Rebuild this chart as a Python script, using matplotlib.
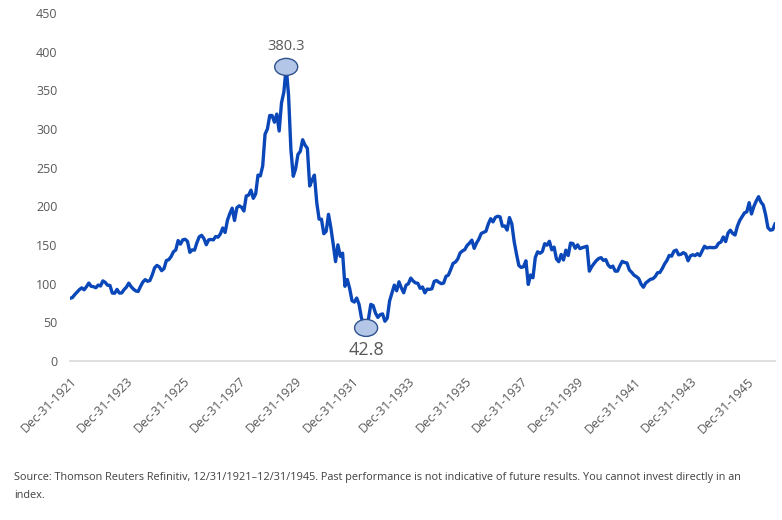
import numpy as np
import matplotlib.pyplot as plt
from matplotlib.patches import Ellipse

# month-end index levels, Dec 1921 .. Dec 1946
y1921 = [81.1]
y1922 = [82.0, 85.8, 89.1, 92.3, 94.6, 92.1, 96.0, 100.8, 96.6, 96.1, 94.7, 98.2]
y1923 = [97.0, 103.6, 101.6, 98.0, 97.7, 87.9, 87.6, 92.6, 87.9, 88.0, 92.3, 95.5]
y1924 = [100.7, 96.2, 92.9, 90.6, 89.9, 96.4, 102.1, 105.2, 103.1, 104.1, 111.4, 120.5]
y1925 = [123.6, 121.7, 116.8, 119.5, 129.9, 131.0, 134.9, 141.2, 143.5, 155.7, 151.1, 156.7]
y1926 = [157.4, 154.7, 140.5, 143.7, 143.4, 153.0, 160.6, 162.5, 158.2, 150.4, 156.6, 157.2]
y1927 = [156.6, 161.0, 160.1, 164.3, 172.0, 166.2, 182.0, 190.6, 197.6, 181.7, 198.2, 200.7]
y1928 = [198.9, 194.0, 213.4, 214.5, 220.9, 210.4, 216.0, 240.4, 239.4, 252.2, 293.4, 300.0]
y1929 = [317.5, 317.4, 308.8, 319.3, 297.4, 333.8, 347.7, 380.3, 343.5, 273.5, 238.9, 248.5]
y1930 = [267.1, 271.1, 286.1, 279.2, 275.1, 226.3, 233.9, 240.4, 204.9, 183.4, 183.4, 164.6]
y1931 = [167.6, 189.7, 172.4, 151.2, 128.5, 150.2, 135.4, 139.4, 96.6, 105.4, 93.9, 78.0]
y1932 = [76.2, 81.4, 73.3, 56.1, 44.7, 42.8, 54.3, 73.2, 71.6, 61.9, 56.4, 59.9]
y1933 = [60.9, 51.4, 55.4, 77.7, 88.1, 98.1, 90.8, 102.4, 94.5, 88.2, 98.1, 99.9]
y1934 = [107.2, 103.5, 101.0, 100.5, 94.0, 95.7, 88.1, 93.0, 92.6, 93.4, 103.0, 104.0]
y1935 = [101.7, 100.0, 100.8, 109.5, 111.0, 118.2, 126.2, 127.9, 131.9, 139.7, 142.3, 144.1]
y1936 = [149.5, 152.5, 156.3, 145.7, 152.6, 157.7, 164.9, 166.3, 167.8, 177.2, 184.0, 179.9]
y1937 = [185.7, 187.2, 186.4, 174.3, 174.7, 169.3, 185.5, 177.4, 154.6, 138.2, 123.5, 121.0]
y1938 = [121.9, 129.6, 99.0, 111.2, 107.7, 133.9, 141.2, 139.3, 141.5, 151.7, 149.8, 154.8]
y1939 = [143.8, 147.3, 131.8, 128.4, 137.7, 130.6, 143.3, 136.4, 152.5, 151.9, 145.7, 150.2]
y1940 = [145.3, 146.5, 147.5, 148.4, 116.2, 121.9, 126.1, 129.9, 132.6, 133.6, 130.0, 131.1]
y1941 = [124.1, 121.0, 122.7, 116.2, 116.2, 123.1, 128.8, 127.4, 126.8, 117.8, 114.7, 111.0]
y1942 = [109.1, 106.6, 99.5, 95.4, 100.9, 103.3, 105.7, 106.3, 109.1, 114.1, 114.5, 119.4]
y1943 = [125.4, 130.0, 136.6, 135.5, 142.1, 143.4, 137.3, 138.0, 140.1, 138.3, 129.6, 135.9]
y1944 = [137.4, 136.3, 138.8, 136.2, 142.2, 148.4, 146.1, 146.9, 146.7, 146.5, 147.3, 152.3]
y1945 = [153.8, 160.4, 154.4, 165.4, 169.1, 164.9, 162.9, 174.3, 181.7, 186.6, 191.5, 192.9]
y1946 = [204.7, 190.1, 199.8, 206.8, 212.5, 205.6, 201.6, 189.2, 172.4, 169.2, 169.8, 177.2]

values = np.array(y1921 + y1922 + y1923 + y1924 + y1925 + y1926 + y1927 + y1928
                  + y1929 + y1930 + y1931 + y1932 + y1933 + y1934 + y1935 + y1936
                  + y1937 + y1938 + y1939 + y1940 + y1941 + y1942 + y1943 + y1944
                  + y1945 + y1946)

tick_years = list(range(1921, 1946, 2))
tick_labels = [f'Dec-31-{yr}' for yr in tick_years]
y_ticks = list(range(0, 451, 50))

source = ('Source: Thomson Reuters Refinitiv, 12/31/1921\u201312/31/1945. Past performance '
          'is not indicative of future results. You cannot invest directly in an\nindex.')

plt.rcParams['font.family'] = ['Open Sans', 'DejaVu Sans']
grey = '#595959'
blue = '#0a47b8'

W, H = 782, 520
fig = plt.figure(figsize=(W / 100, H / 100), dpi=100)
ax = fig.add_axes([70 / W, 1 - 361 / H, 705 / W, 348 / H])

x = np.arange(len(values))
ax.plot(x, values, color=blue, linewidth=2.4, solid_joinstyle='round', zorder=3)

ax.set_xlim(0, len(values) - 1)
ax.set_ylim(0, 450)
ax.set_yticks(y_ticks)
ax.set_xticks([(yr - 1921) * 12 for yr in tick_years])
ax.set_xticklabels(tick_labels, rotation=45, ha='right', va='top',
                   rotation_mode='anchor')
ax.tick_params(axis='y', length=0, pad=9, labelsize=9, labelcolor=grey)
ax.tick_params(axis='x', length=0, pad=10, labelsize=9, labelcolor=grey)
for side in ['top', 'right', 'left']:
    ax.spines[side].set_visible(False)
ax.spines['bottom'].set_color('#d9d9d9')
ax.spines['bottom'].set_linewidth(1.2)

# highlight the peak and the trough
px_x = 705 / (len(values) - 1)
px_y = 348 / 450
for idx, dy, fs in [(int(np.argmax(values)), 15, 10.5), (int(np.argmin(values)), -16, 13)]:
    v = values[idx]
    ax.add_patch(Ellipse((idx, v), 23 / px_x, 17 / px_y, facecolor='#b4c6e7',
                         edgecolor='#2f528f', linewidth=1, zorder=4))
    ax.annotate(f'{v:.1f}', (idx, v), xytext=(0, dy), textcoords='offset points',
                ha='center', va='center', fontsize=fs, color=grey)

fig.text(14 / W, 1 - 472 / H, source, fontsize=7.8, color='#404040',
         va='top', ha='left', linespacing=1.9)

fig.savefig('out.png', dpi=100)
